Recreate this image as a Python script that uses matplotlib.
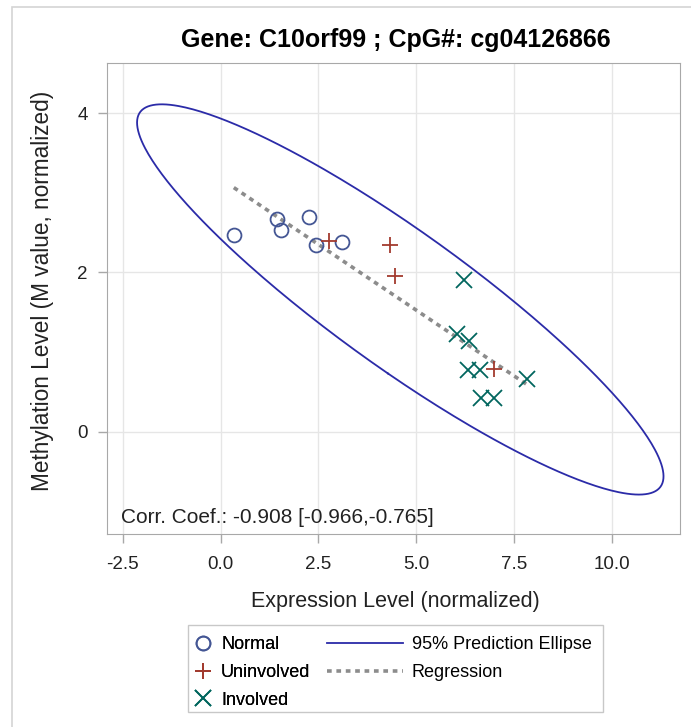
import numpy as np
import matplotlib
matplotlib.use("Agg")
import matplotlib.pyplot as plt
from matplotlib.patches import Rectangle

plt.rcParams["font.family"] = ["Liberation Sans", "DejaVu Sans"]

# data
normal_x = [0.34, 1.44, 1.54, 2.25, 2.43, 3.10]
normal_y = [2.47, 2.67, 2.53, 2.70, 2.34, 2.38]
uninv_x = [2.77, 4.33, 4.45, 6.98]
uninv_y = [2.40, 2.34, 1.95, 0.79]
inv_x = [6.23, 6.04, 6.35, 6.33, 6.64, 6.65, 6.98, 7.83]
inv_y = [1.91, 1.23, 1.14, 0.77, 0.77, 0.42, 0.42, 0.66]

title = "Gene: C10orf99 ; CpG#: cg04126866"
corr_text = "Corr. Coef.: -0.908 [-0.966,-0.765]"
xticks = [-2.5, 0.0, 2.5, 5.0, 7.5, 10.0]
yticks = [0, 2, 4]
F_95_2_16 = 3.634  # F(0.95; 2, n-2) for n = 18

x = np.array(normal_x + uninv_x + inv_x)
y = np.array(normal_y + uninv_y + inv_y)
n = len(x)

W, H = 691, 727
fig = plt.figure(figsize=(W / 100, H / 100), dpi=100)
# outer frame (only top/left visible in the reference)
fig.patches.append(Rectangle((12 / W, -0.1), 1.2, 1.1 - 7 / H, transform=fig.transFigure,
                             fill=False, edgecolor="#d4d4d4", linewidth=1.2))

ax = fig.add_axes([107 / W, 1 - 534 / H, 573 / W, 471 / H])

# 95% prediction ellipse
mean = np.array([x.mean(), y.mean()])
cov = np.cov(x, y)
c = 2 * (n - 1) * (n + 1) / (n * (n - 2)) * F_95_2_16
vals, vecs = np.linalg.eigh(cov)
t = np.linspace(0, 2 * np.pi, 400)
circ = np.vstack([np.cos(t), np.sin(t)])
pts = vecs @ (np.sqrt(vals * c)[:, None] * circ) + mean[:, None]
h4, = ax.plot(pts[0], pts[1], color="#2b2ba8", linewidth=1.3, label="95% Prediction Ellipse", zorder=3)

# regression line
slope, icpt = np.polyfit(x, y, 1)
xr = np.array([x.min(), x.max()])
h5, = ax.plot(xr, slope * xr + icpt, color="#8c8c8c", linewidth=2.6, linestyle=(0, (1.3, 1.3)),
              label="Regression", zorder=3)

h1, = ax.plot(normal_x, normal_y, "o", mfc="none", mec="#445694", ms=10, mew=1.3, label="Normal", zorder=4)
h2, = ax.plot(uninv_x, uninv_y, "+", color="#a23a2e", ms=12, mew=1.3, label="Uninvolved", zorder=4)
h3, = ax.plot(inv_x, inv_y, "x", color="#01665e", ms=11, mew=1.3, label="Involved", zorder=4)

ax.set_xlim(-2.90, 11.74)
ax.set_ylim(-1.285, 4.63)
ax.set_xticks(xticks)
ax.set_xticklabels([f"{v:.1f}" for v in xticks])
ax.set_yticks(yticks)
ax.grid(True, color="#e6e6e6", linewidth=1)
ax.set_axisbelow(True)
for s in ax.spines.values():
    s.set_color("#a8a8a8")
ax.tick_params(colors="#a8a8a8", labelcolor="#222222", labelsize=13.5, length=6.5, width=1)
ax.tick_params(axis="x", pad=9)
ax.tick_params(axis="y", pad=7.5)

fig.text(396 / W, 1 - 40 / H, title, fontsize=18, fontweight="bold", ha="center", va="center")
fig.text(395 / W, 1 - 602 / H, "Expression Level (normalized)", fontsize=15.5,
         ha="center", va="center", color="#222222")
fig.text(43 / W, 1 - 291 / H, "Methylation Level (M value, normalized)", fontsize=16.3,
         rotation=90, ha="center", va="center", color="#222222")
ax.text(0.025, 0.024, corr_text, transform=ax.transAxes, fontsize=15, color="#222222")

# legend: markers column and lines column, shared frame
fig.patches.append(Rectangle((188 / W, 1 - 712 / H), 415 / W, 87 / H, transform=fig.transFigure,
                             fill=False, edgecolor="#c8c8c8", linewidth=1))
leg_kw = dict(loc="upper left", frameon=False, fontsize=13, borderpad=0, borderaxespad=0,
              labelspacing=0.6, handletextpad=0.5)
leg1 = fig.legend([h1, h2, h3], ["Normal", "Uninvolved", "Involved"],
                  bbox_to_anchor=(194 / W, 1 - 636 / H), handlelength=1.0, **leg_kw)
fig.add_artist(leg1)
leg2 = fig.legend([h4, h5], ["95% Prediction Ellipse", "Regression"],
                  bbox_to_anchor=(327 / W, 1 - 636 / H), handlelength=4.2, **leg_kw)

fig.savefig("out.png", dpi=100)
